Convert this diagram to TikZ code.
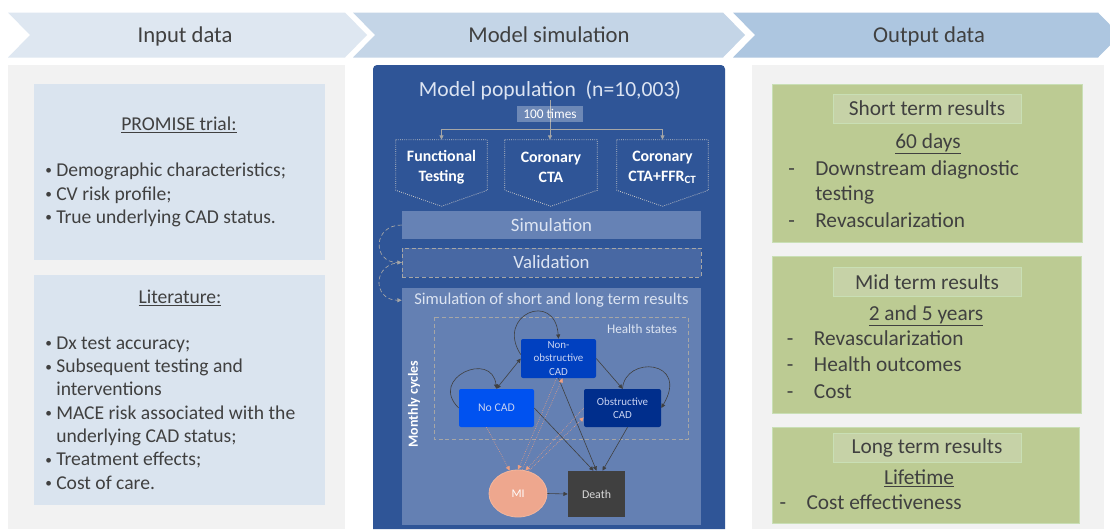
\documentclass[tikz,border=0pt]{standalone}
\usepackage{fontspec}
\setmainfont{Carlito}
\usetikzlibrary{arrows.meta,shapes.geometric,calc}
\definecolor{txt}{HTML}{404040}
\definecolor{panelgray}{HTML}{F2F2F2}
\definecolor{chevA}{HTML}{DEE7F1}
\definecolor{chevB}{HTML}{C4D5E7}
\definecolor{chevC}{HTML}{ADC6E0}
\definecolor{inbox}{HTML}{DAE4EF}
\definecolor{mblue}{HTML}{2F5597}
\definecolor{simbar}{HTML}{6682B5}
\definecolor{valbar}{HTML}{4868A3}
\definecolor{resbar}{HTML}{6480B3}
\definecolor{lighttxt}{HTML}{DCE4F2}
\definecolor{gline}{HTML}{A6A6A6}
\definecolor{tbord}{HTML}{C8C8C8}
\definecolor{nonobsC}{HTML}{0040C0}
\definecolor{nocadC}{HTML}{0052F0}
\definecolor{obsC}{HTML}{002E8C}
\definecolor{hstxt}{HTML}{C9D3F2}
\definecolor{miC}{HTML}{EEA78E}
\definecolor{miB}{HTML}{F4B69C}
\definecolor{deathC}{HTML}{404040}
\definecolor{deathtxt}{HTML}{D9D9D9}
\definecolor{greenbox}{HTML}{BCCB93}
\definecolor{greenB}{HTML}{C9DFB5}
\definecolor{greentitle}{HTML}{C6D2A7}
\definecolor{arrowdark}{HTML}{404040}
\definecolor{salmon}{HTML}{F0A080}
\newcommand\mybul{\makebox[8.25pt][l]{\raisebox{1.2pt}{\fontsize{10}{10}\selectfont •}}}
\newcommand\mynobul{\hspace*{8.25pt}}
\newcommand\mydash{\makebox[20.25pt][l]{-}}
\begin{document}
\begin{tikzpicture}[x=0.75pt,y=-0.75pt,
  >={Triangle[length=3.2pt,width=3pt]},
  heading/.style={font=\fontsize{17}{20}\selectfont, text=txt, inner sep=0pt, anchor=base},
  inline/.style={font=\fontsize{14.7}{17}\selectfont, text=txt, inner sep=0pt, anchor=base west},
  intitle/.style={font=\fontsize{14.7}{17}\selectfont, text=txt, inner sep=0pt, anchor=base},
  outline/.style={font=\fontsize{16}{19}\selectfont, text=txt, inner sep=0pt, anchor=base west},
  outtitle/.style={font=\fontsize{16}{19}\selectfont, text=txt, inner sep=0pt, anchor=base},
  testbox/.style={minimum height=41.25pt, inner sep=0pt, align=center, text=white, font=\bfseries\fontsize{11.9}{15}\selectfont},
  testbord/.style={draw=tbord, line width=0.6pt, densely dotted},
  bar/.style={minimum width=224.25pt, inner sep=0pt, text=lighttxt},
  hs/.style={rounded corners=1.5pt, inner sep=0pt, align=center, text=hstxt},
  darr/.style={draw=arrowdark, line width=0.45pt},
  sarr/.style={draw=salmon, line width=0.45pt, densely dotted},
  garr/.style={draw=gline, line width=0.5pt},
]
\fill[white] (0,0) rectangle (1110,529);
\useasboundingbox (0,0) rectangle (1110,529);

% chevrons
\fill[chevA] (8,12.5) -- (345,12.5) -- (367,35) -- (345,57.5) -- (8,57.5) -- (30,35) -- cycle;
\fill[chevB] (353,12.5) -- (723,12.5) -- (745,35) -- (723,57.5) -- (353,57.5) -- (375,35) -- cycle;
\fill[chevC] (733,12.5) -- (1098,12.5) -- (1120,35) -- (1098,57.5) -- (733,57.5) -- (755,35) -- cycle;
\node[heading] (h1) at (185,42.5) {Input data};
\node[heading] (h2) at (549,42.5) {Model simulation};
\node[heading] (h3) at (929,42.5) {Output data};

% side panels
\fill[panelgray] (7.5,64.5) rectangle (345,529);
\fill[panelgray] (752,64.5) rectangle (1104,529);

% left boxes
\fill[inbox] (34,84) rectangle (325,260);
\fill[inbox] (34,275) rectangle (325,505);
\node[intitle] (pt) at (179,130.7) {\underline{PROMISE trial:}};
\foreach \yb/\tx [count=\i] in {176.5/{Demographic characteristics;}, 200/{CV risk profile;}, 223.3/{True underlying CAD status.}}
  \node[inline] (pa\i) at (45,\yb) {\mybul\tx};
\node[intitle] (lt) at (180,303.3) {\underline{Literature:}};
\foreach \yb/\pre/\tx [count=\i] in {349.3/\mybul/{Dx test accuracy;}, 372.7/\mybul/{Subsequent testing and}, 395.7/\mynobul/{interventions}, 419/\mybul/{MACE risk associated with the}, 442.3/\mynobul/{underlying CAD status;}, 465.7/\mybul/{Treatment effects;}, 489/\mybul/{Cost of care.}}
  \node[inline] (lb\i) at (45,\yb) {\pre\tx};

% right boxes
\filldraw[fill=greenbox, draw=greenB, line width=0.6pt] (772,84) rectangle (1082,242);
\filldraw[fill=greentitle, draw=greenB, line width=0.6pt] (833,94) rectangle (1021,123);
\node[outtitle] (st) at (927,115.7) {Short term results};
\node[outtitle] (st2) at (928,148.3) {\underline{60 days}};
\node[outline] (sa1) at (788,175) {\mydash Downstream diagnostic};
\node[outline] (sa2) at (788,200) {\mynobul\hspace*{12pt}testing};
\node[outline] (sa3) at (788,227.7) {\mydash Revascularization};

\filldraw[fill=greenbox, draw=greenB, line width=0.6pt] (772,256) rectangle (1081,413);
\filldraw[fill=greentitle, draw=greenB, line width=0.6pt] (833,267) rectangle (1021,296);
\node[outtitle] (mt) at (927,289) {Mid term results};
\node[outtitle] (mt2) at (926,320) {\underline{2 and 5 years}};
\node[outline] (ma1) at (786.7,345) {\mydash Revascularization};
\node[outline] (ma2) at (786.7,371.7) {\mydash Health outcomes};
\node[outline] (ma3) at (786.7,398.3) {\mydash Cost};

\filldraw[fill=greenbox, draw=greenB, line width=0.6pt] (772,427) rectangle (1079,523);
\filldraw[fill=greentitle, draw=greenB, line width=0.6pt] (833,433) rectangle (1021,462);
\node[outtitle] (lgt) at (927,453.3) {Long term results};
\node[outtitle] (lgt2) at (919,484) {\underline{Lifetime}};
\node[outline] (la1) at (779.3,509.3) {\mydash Cost effectiveness};

% middle panel
\fill[mblue] (373,529) [rounded corners=3pt] -- (373,65) -- (725,65) [sharp corners] -- (725,529) -- cycle;
\node[font=\fontsize{16.2}{19}\selectfont, text=lighttxt, inner sep=0pt, anchor=base] (mp) at (550,96.5) {Model population\ \ (n=10,003)};
\node[testbox, minimum width=68.25pt] (ft) at (441.5,167.5) {Functional\\Testing};
\node[testbox, minimum width=69pt] (cta) at (551,167.5) {Coronary\\CTA};
\node[testbox, minimum width=68.25pt] (ffr) at (662.5,167.5) {Coronary\\CTA+FFR\textsubscript{CT}};
\foreach \n in {ft,cta,ffr}
  \draw[testbord] (\n.north west) -- (\n.north east) -- ([yshift=3.75pt]\n.south east) -- ([yshift=-8.25pt]\n.south) -- ([yshift=3.75pt]\n.south west) -- cycle;
\coordinate (split) at (550,129);
\draw[garr,->] (mp.south) -- (mp.south |- cta.north);
\draw[garr,->] (split) -| (ft.north);
\draw[garr,->] (split) -| (ffr.north);
\node[fill=white, fill opacity=0.3, text opacity=1, text=white, minimum width=49.5pt, minimum height=12pt, inner sep=0pt, font=\fontsize{10}{12}\selectfont] (hund) at (550,114) {100 times};

\node[bar, fill=simbar, minimum height=21pt, font=\fontsize{14.1}{17}\selectfont] (sim) at (551.5,225) {Simulation};
\node[bar, fill=valbar, draw=gline, densely dashed, line width=0.6pt, minimum height=21.75pt, font=\fontsize{14.1}{17}\selectfont] (val) at (551.5,262.5) {Validation};
\fill[resbar] (402,288) rectangle (701,525);
\node[bar, minimum height=18pt, font=\fontsize{12.4}{15}\selectfont, anchor=north] (res) at (551.5,288) {Simulation of short and long term results};
\draw[garr,densely dashed,->] (sim.west) to[out=180,in=180,looseness=2] (val.west);
\draw[garr,densely dashed,->] (val.west) to[out=180,in=180,looseness=2] (res.west);

\draw[draw=gline, densely dashed, line width=0.6pt] (434,317) rectangle (688,439);
\node[anchor=base east, inner sep=0pt, text=lighttxt, font=\fontsize{9.9}{12}\selectfont] (hslab) at (677.3,333.3) {Health states};
\node[rotate=90, inner sep=0pt, text=white, font=\bfseries\fontsize{10.5}{12}\selectfont] (mc) at (414,404) {Monthly cycles};

% health state nodes
\node[hs, fill=nonobsC, minimum width=56.25pt, minimum height=29.25pt, font=\fontsize{8.2}{10}\selectfont] (nonobs) at (558.5,358.5) {Non-\\obstructive\\CAD};
\node[hs, fill=nocadC, minimum width=56.25pt, minimum height=28.5pt, font=\fontsize{8.8}{10}\selectfont] (nocad) at (496.5,408) {No CAD};
\node[hs, fill=obsC, minimum width=57.75pt, minimum height=28.5pt, font=\fontsize{8.2}{10}\selectfont] (obs) at (622.5,408) {Obstructive\\CAD};
\node[ellipse, fill=miC, draw=miB, line width=0.6pt, minimum width=43.5pt, minimum height=35.25pt, inner sep=0pt, text=white, font=\fontsize{8.8}{10}\selectfont] (mi) at (518,493.5) {MI};
\node[fill=deathC, minimum width=42.75pt, minimum height=34.5pt, inner sep=0pt, text=deathtxt, font=\fontsize{8.9}{10}\selectfont] (death) at (596.5,494) {Death};

% transitions
\draw[darr,<->] (nocad.north) -- (nonobs.west);
\draw[darr,->] (nocad.west) .. controls (428,378) and (492,350) .. (nocad.north);
\draw[darr,->] (nonobs.174) .. controls (495,315) and (555,290) .. (nonobs.north);
\draw[darr,->] (nonobs.east) -- (obs.north);
\draw[darr,->] (obs.north) .. controls (625,355) and (690,360) .. (obs.east);
\draw[darr,->] (nocad.east) -- ([xshift=-2.25pt]death.north);
\draw[darr,->] (nonobs.south) -- (death.north);
\draw[darr,->] ([xshift=3.75pt]obs.south) -- ([xshift=4.5pt]death.north);
\draw[darr,->] (mi.east) -- (death.west);
\draw[sarr,->] ([xshift=-7.5pt]nocad.south) -- (mi.110);
\draw[sarr,->] ([xshift=-1.5pt]nonobs.south) -- (mi.north);
\draw[sarr,->] (mi.80) -- ([xshift=3pt]nonobs.south);
\draw[sarr,->] (obs.west) -- (mi.72);
\draw[sarr,->] (mi.65) -- ([yshift=-7pt]obs.west);
\end{tikzpicture}
\end{document}
